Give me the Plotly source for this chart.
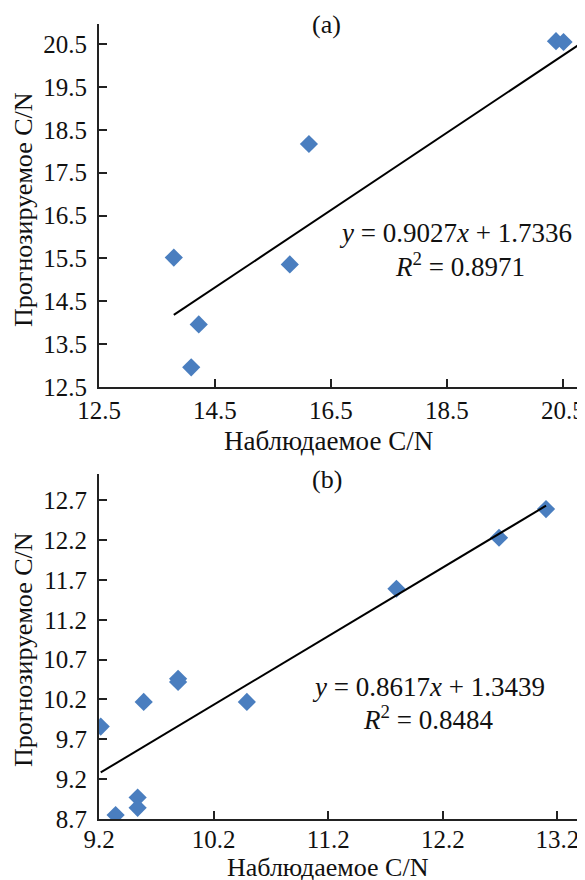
import plotly.graph_objects as go

# Panel (a)
obs_a = [13.79, 14.22, 14.09, 15.79, 16.12, 20.38, 20.51]
pred_a = [15.52, 13.96, 12.96, 15.36, 18.17, 20.57, 20.55]
slope_a, icpt_a = 0.9027, 1.7336
r2_a = 0.8971
ticks_a = [12.5, 14.5, 16.5, 18.5, 20.5]
yticks_a = [12.5, 13.5, 14.5, 15.5, 16.5, 17.5, 18.5, 19.5, 20.5]

# Panel (b)
obs_b = [9.215, 9.345, 9.537, 9.537, 9.59, 9.89, 9.89, 10.49, 11.795, 12.69, 13.1]
pred_b = [9.86, 8.75, 8.97, 8.84, 10.17, 10.46, 10.42, 10.17, 11.59, 12.23, 12.59]
slope_b, icpt_b = 0.8617, 1.3439
r2_b = 0.8484
ticks_b = [9.2, 10.2, 11.2, 12.2, 13.2]
yticks_b = [8.7, 9.2, 9.7, 10.2, 10.7, 11.2, 11.7, 12.2, 12.7]

xr_a = [12.5, 20.88]
yr_a = [12.5, 20.97]
xr_b = [9.2, 13.44]
yr_b = [8.7, 13.03]

FONT = "Liberation Serif, Times New Roman, Times, serif"
BLUE = "#4a7ebf"
OFF = 8                 # default page body margin
W, H = 585 - OFF, 880 - OFF

fig = go.Figure()

# markers
fig.add_trace(go.Scatter(x=obs_a, y=pred_a, mode="markers", xaxis="x", yaxis="y",
                         marker=dict(symbol="diamond", size=14, color=BLUE), showlegend=False))
fig.add_trace(go.Scatter(x=obs_b, y=pred_b, mode="markers", xaxis="x2", yaxis="y2",
                         marker=dict(symbol="diamond", size=14, color=BLUE), showlegend=False))

# trend lines
lx_a = [min(obs_a), xr_a[1]]
fig.add_trace(go.Scatter(x=lx_a, y=[slope_a * v + icpt_a for v in lx_a], mode="lines",
                         xaxis="x", yaxis="y", line=dict(color="black", width=2), showlegend=False))
lx_b = [min(obs_b), max(obs_b)]
fig.add_trace(go.Scatter(x=lx_b, y=[slope_b * v + icpt_b for v in lx_b], mode="lines",
                         xaxis="x2", yaxis="y2", line=dict(color="black", width=2), showlegend=False))

def px(x):
    return (x - OFF) / W

def py(y):
    return 1 - (y - OFF) / H

axis_common = dict(showline=True, linecolor="#222", linewidth=2, ticks="inside", ticklen=8,
                   tickcolor="#222", tickwidth=1.5, showgrid=False, zeroline=False,
                   automargin=False,
                   tickfont=dict(family=FONT, size=25, color="#111"))

fig.update_layout(
    width=W, height=H,
    margin=dict(l=0, r=0, t=0, b=0),
    paper_bgcolor="white", plot_bgcolor="white",
    xaxis=dict(domain=[px(99), 1], range=xr_a, tickvals=ticks_a, ticktext=[f"{v:.1f}" for v in ticks_a],
               anchor="y", ticklabelstandoff=0, **axis_common),
    yaxis=dict(domain=[py(387), py(24)], range=yr_a, tickvals=yticks_a,
               ticktext=[f"{v:.1f}" for v in yticks_a], anchor="x", ticklabelstandoff=5, **axis_common),
    xaxis2=dict(domain=[px(99), 1], range=xr_b, tickvals=ticks_b, ticktext=[f"{v:.1f}" for v in ticks_b],
                anchor="y2", ticklabelstandoff=-3, **axis_common),
    yaxis2=dict(domain=[py(819), py(474)], range=yr_b, tickvals=yticks_b,
                ticktext=[f"{v:.1f}" for v in yticks_b], anchor="x2", ticklabelstandoff=5, **axis_common),
)

def ann(text, x, y, size=26, angle=0, xanchor="center"):
    fig.add_annotation(text=text, x=px(x), y=py(y), xref="paper", yref="paper",
                       showarrow=False, textangle=angle, xanchor=xanchor, yanchor="middle",
                       font=dict(family=FONT, size=size, color="#111"))

ann("(a)", 326, 25, size=26)
ann("(b)", 327, 479, size=26)
ann("Наблюдаемое C/N", 328, 441, size=27)
ann("Наблюдаемое C/N", 328, 867, size=26)
ann("Прогнозируемое C/N", 23, 210, size=26, angle=-90)
ann("Прогнозируемое C/N", 23, 650, size=26, angle=-90)
ann(f"<i>y</i> = {slope_a}<i>x</i> + {icpt_a}", 574, 233, size=27, xanchor="right")
ann(f"<i>R</i><sup>2</sup> = {r2_a}", 460, 265, size=27)
ann(f"<i>y</i> = {slope_b}<i>x</i> + {icpt_b}", 428, 687, size=27)
ann(f"<i>R</i><sup>2</sup> = {r2_b}", 428, 718, size=27)

fig.write_html("out.html")
